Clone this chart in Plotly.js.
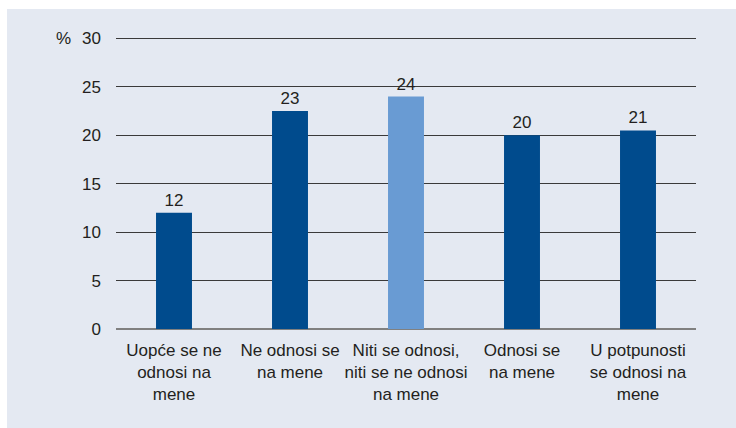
<!DOCTYPE html>
<html>
<head>
<meta charset="utf-8">
<script src="https://cdn.plot.ly/plotly-3.0.1.min.js"></script>
<style>
  html, body { margin: 0; padding: 0; background: #ffffff; width: 736px; height: 428px; overflow: hidden; }
  #chart { position: absolute; left: 7px; top: 9px; width: 729px; height: 419px; }
</style>
</head>
<body>
<div id="chart"></div>
<script>
const categories = [
  "Uopće se ne<br>odnosi na<br>mene",
  "Ne odnosi se<br>na mene",
  "Niti se odnosi,<br>niti se ne odnosi<br>na mene",
  "Odnosi se<br>na mene",
  "U potpunosti<br>se odnosi na<br>mene"
];
const values = [12, 22.5, 24, 20, 20.5];
const labels = ["12", "23", "24", "20", "21"];
const barColors = ["#004b8d", "#004b8d", "#699bd3", "#004b8d", "#004b8d"];
const yTicks = [0, 5, 10, 15, 20, 25, 30];

const fontFamily = "'Liberation Sans', Arial, sans-serif";
const textColor = "#231f20";

const trace = {
  type: "bar",
  x: categories,
  y: values,
  text: labels,
  textposition: "outside",
  textfont: { family: fontFamily, size: 17, color: textColor },
  cliponaxis: false,
  marker: { color: barColors, line: { width: 0 } },
  hoverinfo: "none"
};

const layout = {
  width: 729,
  height: 419,
  margin: { l: 109, r: 40, t: 28, b: 99 },
  paper_bgcolor: "#e4e9f2",
  plot_bgcolor: "#e4e9f2",
  bargap: 0.69,
  showlegend: false,
  font: { family: fontFamily, size: 17, color: textColor },
  xaxis: {
    type: "category",
    showgrid: false,
    showline: false,
    zeroline: false,
    ticks: "",
    tickangle: 0,
    ticklabelstandoff: 9,
    tickfont: { family: fontFamily, size: 17, color: textColor },
    fixedrange: true
  },
  yaxis: {
    range: [0, 30.15],
    tickvals: yTicks,
    ticktext: yTicks.map(String),
    showgrid: true,
    gridcolor: "#3a3a3a",
    gridwidth: 1,
    zeroline: true,
    zerolinecolor: "#808080",
    zerolinewidth: 2,
    showline: false,
    ticks: "",
    ticklabelstandoff: 14,
    tickfont: { family: fontFamily, size: 17, color: textColor },
    fixedrange: true
  },
  annotations: [{
    text: "%",
    xref: "paper", yref: "y",
    x: 0, y: 30,
    xanchor: "right", yanchor: "middle",
    xshift: -43,
    showarrow: false,
    font: { family: fontFamily, size: 17, color: textColor }
  }]
};

Plotly.newPlot("chart", [trace], layout, { displayModeBar: false, staticPlot: true });
</script>
</body>
</html>
